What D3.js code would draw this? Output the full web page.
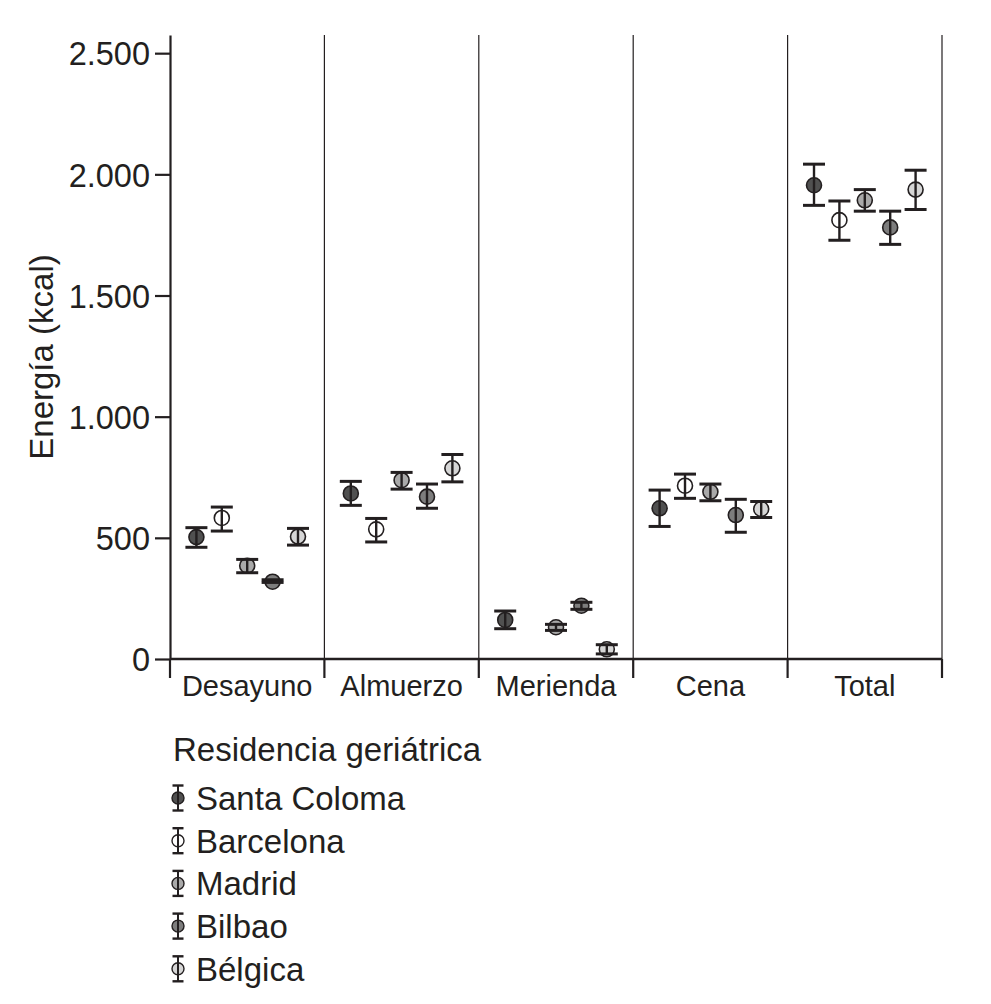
<!DOCTYPE html>
<html>
<head>
<meta charset="utf-8">
<script src="https://cdn.jsdelivr.net/npm/d3@7"></script>
<style>
  body { margin: 0; background: #fff; }
  text { font-family: "Liberation Sans", Arial, Helvetica, sans-serif; fill: #231f20; }
</style>
</head>
<body>
<div id="chart"></div>
<script>
// Categories (meal) and series (residence)
var categories = ["Desayuno", "Almuerzo", "Merienda", "Cena", "Total"];
var series = ["Santa Coloma", "Barcelona", "Madrid", "Bilbao", "Bélgica"];

// Mean energy (kcal) per series, in category order
var santaColoma = [503, 683, 161, 622, 1955];
var barcelona   = [582, 535, null, 715, 1811];
var madrid      = [385, 738, 131, 690, 1893];
var bilbao      = [319, 670, 220, 594, 1781];
var belgica     = [505, 787, 40, 619, 1937];

// Error bar limits
var santaColomaLo = [461, 634, 125, 547, 1872];
var santaColomaHi = [542, 733, 198, 697, 2042];
var barcelonaLo   = [528, 483, null, 663, 1728];
var barcelonaHi   = [627, 580, null, 763, 1890];
var madridLo      = [356, 701, 118, 653, 1848];
var madridHi      = [411, 770, 143, 722, 1937];
var bilbaoLo      = [316, 622, 205, 523, 1711];
var bilbaoHi      = [327, 722, 234, 659, 1848];
var belgicaLo     = [470, 731, 21, 584, 1855];
var belgicaHi     = [539, 844, 59, 650, 2017];

var yTicks = [0, 500, 1000, 1500, 2000, 2500];
var fills = ["#505050", "#ffffff", "#a9a9a9", "#7d7d7d", "#d6d6d6"];

var means = [santaColoma, barcelona, madrid, bilbao, belgica];
var lows = [santaColomaLo, barcelonaLo, madridLo, bilbaoLo, belgicaLo];
var highs = [santaColomaHi, barcelonaHi, madridHi, bilbaoHi, belgicaHi];

// Flatten into rows
var rows = [];
series.forEach(function(s, si) {
    categories.forEach(function(c, ci) {
        if (means[si][ci] != null) {
            rows.push({ series: s, si: si, cat: c, mean: means[si][ci], lo: lows[si][ci], hi: highs[si][ci] });
        }
    });
});

var svgWidth = 991;
var svgHeight = 1004;
var ink = "#231f20";

var svg = d3.select("#chart")
    .append("svg")
    .attr("width", svgWidth)
    .attr("height", svgHeight);

// Scales
var x = d3.scaleBand()
    .domain(categories)
    .range([170, 942]);
var xInner = d3.scalePoint()
    .domain(series)
    .range([0, x.bandwidth()])
    .padding(1.04);
var y = d3.scaleLinear()
    .domain([0, 2575])
    .range([659, 35]);

var fmt = d3.formatLocale({ decimal: ",", thousands: ".", grouping: [3], currency: ["", "€"] }).format(",");

// Panel separators
svg.append("g")
    .selectAll("line")
    .data(categories)
    .enter()
    .append("line")
    .attr("x1", d => x(d) + x.bandwidth())
    .attr("x2", d => x(d) + x.bandwidth())
    .attr("y1", y(2575))
    .attr("y2", y(0))
    .attr("stroke", ink)
    .attr("stroke-width", 1.2);

// Y axis
var yAxis = svg.append("g")
    .attr("transform", "translate(170,0)")
    .call(d3.axisLeft(y).tickValues(yTicks).tickFormat(fmt).tickSize(15).tickSizeOuter(0).tickPadding(5));
yAxis.select(".domain").attr("stroke", ink).attr("stroke-width", 2.2);
yAxis.selectAll(".tick line").attr("stroke", ink).attr("stroke-width", 2.2);
yAxis.selectAll(".tick text")
    .attr("font-size", 32.5)
    .attr("font-family", "Liberation Sans, Arial, sans-serif")
    .attr("fill", ink)
    .attr("dy", "0.36em");

// X axis: ticks at panel boundaries
var xAxisG = svg.append("g").attr("transform", "translate(0," + y(0) + ")");
xAxisG.append("line")
    .attr("x1", 170).attr("x2", 942)
    .attr("stroke", ink).attr("stroke-width", 2.6);
xAxisG.selectAll(".xtick")
    .data([categories[0]].concat(categories))
    .enter()
    .append("line")
    .attr("x1", (d, i) => i === 0 ? x(d) : x(d) + x.bandwidth())
    .attr("x2", (d, i) => i === 0 ? x(d) : x(d) + x.bandwidth())
    .attr("y1", 0).attr("y2", 19)
    .attr("stroke", ink).attr("stroke-width", 2.2);
xAxisG.selectAll(".xlabel")
    .data(categories)
    .enter()
    .append("text")
    .attr("x", d => x(d) + x.bandwidth() / 2)
    .attr("y", 37)
    .attr("text-anchor", "middle")
    .attr("font-size", 29)
    .text(d => d);

// Y title
svg.append("text")
    .attr("transform", "translate(53,357) rotate(-90)")
    .attr("text-anchor", "middle")
    .attr("font-size", 33)
    .text("Energía (kcal)");

// Points with error bars
var pts = svg.append("g")
    .selectAll("g")
    .data(rows)
    .enter()
    .append("g")
    .attr("transform", d => "translate(" + (x(d.cat) + xInner(d.series)) + ",0)");

pts.append("circle")
    .attr("cy", d => y(d.mean))
    .attr("r", 7.5)
    .attr("fill", d => fills[d.si])
    .attr("stroke", ink)
    .attr("stroke-width", 1.6);
pts.append("line")
    .attr("y1", d => y(d.hi))
    .attr("y2", d => y(d.lo))
    .attr("stroke", ink)
    .attr("stroke-width", 2.4);
pts.append("line")
    .attr("x1", -11).attr("x2", 11)
    .attr("y1", d => y(d.hi)).attr("y2", d => y(d.hi))
    .attr("stroke", ink).attr("stroke-width", 3);
pts.append("line")
    .attr("x1", -11).attr("x2", 11)
    .attr("y1", d => y(d.lo)).attr("y2", d => y(d.lo))
    .attr("stroke", ink).attr("stroke-width", 3);

// Legend
var legend = svg.append("g").attr("transform", "translate(173,761)");
legend.append("text")
    .attr("font-size", 33)
    .text("Residencia geriátrica");

var items = legend.selectAll(".item")
    .data(series)
    .enter()
    .append("g")
    .attr("transform", (d, i) => "translate(0," + (49 + i * 42.7) + ")");
items.append("circle")
    .attr("cx", 5).attr("cy", -12)
    .attr("r", 6)
    .attr("fill", (d, i) => fills[i])
    .attr("stroke", ink).attr("stroke-width", 1.4);
items.append("line")
    .attr("x1", 5).attr("x2", 5)
    .attr("y1", -24.5).attr("y2", 0.5)
    .attr("stroke", ink).attr("stroke-width", 2);
items.append("line")
    .attr("x1", -0.5).attr("x2", 10.5)
    .attr("y1", -24.5).attr("y2", -24.5)
    .attr("stroke", ink).attr("stroke-width", 2.4);
items.append("line")
    .attr("x1", -0.5).attr("x2", 10.5)
    .attr("y1", 0.5).attr("y2", 0.5)
    .attr("stroke", ink).attr("stroke-width", 2.4);
items.append("text")
    .attr("x", 23)
    .attr("font-size", 33)
    .text(d => d);
</script>
</body>
</html>
